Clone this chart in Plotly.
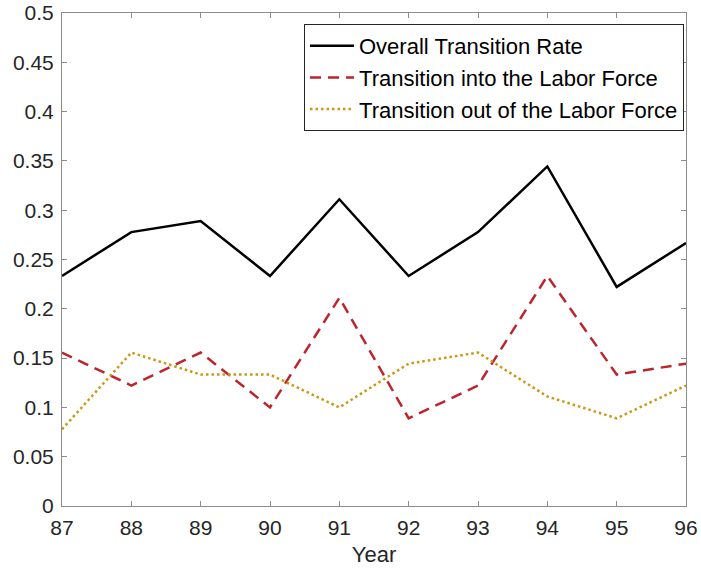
import plotly.graph_objects as go

years = [87, 88, 89, 90, 91, 92, 93, 94, 95, 96]
overall = [0.2333, 0.2778, 0.2889, 0.2333, 0.3111, 0.2333, 0.2778, 0.3444, 0.2222, 0.2667]
into_lf = [0.1556, 0.1222, 0.1556, 0.1000, 0.2111, 0.0889, 0.1222, 0.2333, 0.1333, 0.1444]
out_lf = [0.0778, 0.1556, 0.1333, 0.1333, 0.1000, 0.1444, 0.1556, 0.1111, 0.0889, 0.1222]
yticks = [0, 0.05, 0.1, 0.15, 0.2, 0.25, 0.3, 0.35, 0.4, 0.45, 0.5]
ytext = ["0", "0.05", "0.1", "0.15", "0.2", "0.25", "0.3", "0.35", "0.4", "0.45", "0.5"]

fig = go.Figure()
fig.add_trace(go.Scatter(x=years, y=overall, mode="lines", name="Overall Transition Rate",
                         line=dict(color="black", width=2.5)))
fig.add_trace(go.Scatter(x=years, y=into_lf, mode="lines", name="Transition into the Labor Force",
                         line=dict(color="#bb262c", width=2.5, dash="11px,7px")))
fig.add_trace(go.Scatter(x=years, y=out_lf, mode="lines", name="Transition out of the Labor Force",
                         line=dict(color="#cc9610", width=2.5, dash="2.5px,3px")))

axis_common = dict(showline=True, linecolor="#8c8c8c", linewidth=1, mirror="ticks",
                   ticks="inside", ticklen=5, tickcolor="#8c8c8c", showgrid=False, zeroline=False,
                   automargin=False, ticklabelstandoff=3, tickfont=dict(size=21, color="#262626"))
fig.update_xaxes(range=[87, 96], tickvals=years,
                 title=dict(text="Year", font=dict(size=22, color="#262626"), standoff=8),
                 **axis_common)
fig.update_yaxes(range=[0, 0.5], tickvals=yticks, ticktext=ytext, **axis_common)

fig.update_layout(
    width=701, height=569,
    margin=dict(l=62, r=15, t=13, b=63),
    plot_bgcolor="white", paper_bgcolor="white",
    font=dict(family="Liberation Sans, Arial, sans-serif", color="#262626"),
    showlegend=True,
    legend=dict(x=0.9968, y=0.9777, xanchor="right", yanchor="top", bordercolor="#262626", borderwidth=1,
                bgcolor="white", font=dict(size=22, color="black"), tracegroupgap=0, itemwidth=44),
)
fig.write_html("out.html", config={"displayModeBar": False},
               post_script="document.body.style.margin='0';")
